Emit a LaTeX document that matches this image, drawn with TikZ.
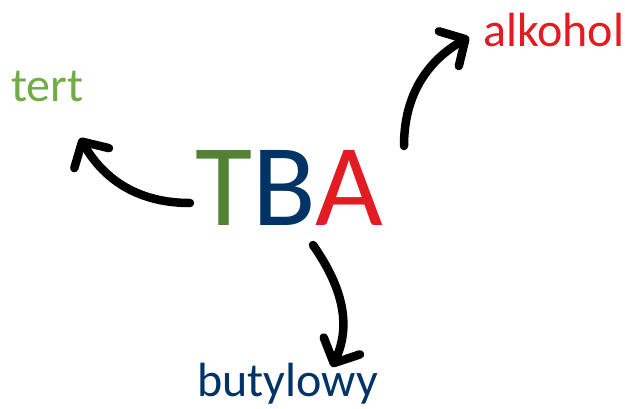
\documentclass[tikz,border=0pt]{standalone}
\usepackage{fontspec}
\setmainfont{Carlito}
\usetikzlibrary{arrows.meta}
\definecolor{tgreen}{RGB}{84,130,53}
\definecolor{lgreen}{RGB}{112,173,71}
\definecolor{dblue}{RGB}{0,51,102}
\definecolor{tred}{RGB}{227,27,35}
\begin{document}
\begin{tikzpicture}[x=1pt, y=-1pt,
    word/.style={anchor=base west, inner sep=0pt, font=\fontsize{48}{52}\selectfont},
    arr/.style={line width=8.5pt, line cap=round,
        -{Straight Barb[length=19pt, width=40pt, round]}}]
            \useasboundingbox (0,0) rectangle (625,408);
            \node[anchor=base west, inner sep=0pt, font=\fontsize{117}{120}\selectfont] (TBA) at (195,225)
                {\textcolor{tgreen}{T}\textcolor{dblue}{B}\textcolor{tred}{A}};
            \node[word, text=lgreen] (tert) at (11,101) {tert};
            \node[word, text=tred] (alk) at (483,46) {alkohol};
            \node[word, text=dblue] (but) at (197,396) {butylowy};

            \coordinate (sA) at (404,146);
            \coordinate (eA) at (469,37);
            \coordinate (sT) at (190,203);
            \coordinate (eT) at (80,138);
            \coordinate (sB) at (313,245);
            \coordinate (eB) at (332,367);

            \draw (sA) edge[arr, out=90, in=210] (eA);
            \draw (sT) edge[arr, out=180, in=-60] (eT);
            \draw (sB) edge[arr, out=-55, in=65] (eB);
        \end{tikzpicture}
\end{document}
